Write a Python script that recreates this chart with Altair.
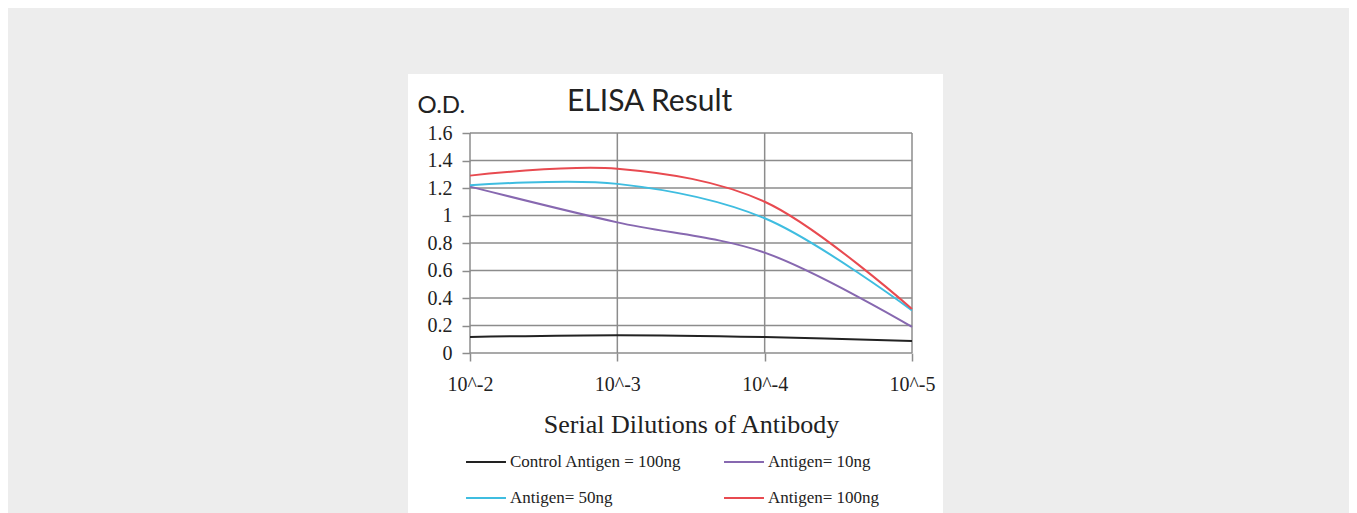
import altair as alt
import pandas as pd

dilutions = ["10^-2", "10^-3", "10^-4", "10^-5"]
series_names = ["Control Antigen = 100ng", "Antigen= 10ng", "Antigen= 50ng", "Antigen= 100ng"]
control = [0.116, 0.13, 0.116, 0.087]
ag10 = [1.21, 0.95, 0.73, 0.19]
ag50 = [1.22, 1.23, 0.98, 0.31]
ag100 = [1.29, 1.34, 1.10, 0.32]
y_ticks = [0, 0.2, 0.4, 0.6, 0.8, 1.0, 1.2, 1.4, 1.6]
colors = ["#222222", "#8768b0", "#3fbde0", "#e84a50"]

rows = []
for name, vals in zip(series_names, [control, ag10, ag50, ag100]):
    for d, v in zip(dilutions, vals):
        rows.append({"series": name, "dilution": d, "od": v})
df = pd.DataFrame(rows)
df_h = pd.DataFrame({"od": y_ticks})
df_v = pd.DataFrame({"dilution": dilutions})

GRID = "#8c8c8c"
x_enc = alt.X(
    "dilution:N", sort=dilutions,
    scale=alt.Scale(type="point", padding=0, domain=dilutions),
    axis=alt.Axis(title="Serial Dilutions of Antibody", labelAngle=0, grid=False, domain=False,
                  ticks=True, tickSize=8, tickColor=GRID, tickWidth=1.5,
                  labelFont="Liberation Serif", labelFontSize=20, labelColor="#222",
                  labelPadding=13, titleFont="Liberation Serif", titleFontSize=26,
                  titleFontWeight="normal", titleColor="#222", titlePadding=17, zindex=1),
)
y_enc = alt.Y(
    "od:Q",
    scale=alt.Scale(domain=[0, 1.6], nice=False, zero=True),
    axis=alt.Axis(title="O.D.", values=y_ticks, format="~g", grid=False, domain=False, ticks=True,
                  tickSize=8, tickColor=GRID, tickWidth=1.5, labelFont="Liberation Serif",
                  labelFontSize=20, labelColor="#222", labelPadding=10,
                  titleAngle=0, titleX=-53, titleY=-21, titleAlign="left",
                  titleBaseline="alphabetic", titleFont="Lato", titleFontSize=24,
                  titleFontWeight="normal", titleColor="#222", zindex=1),
)

box = alt.Chart(pd.DataFrame({"box": [0]})).mark_rect(color="white").encode(
    x=alt.value(-62), x2=alt.value(473), y=alt.value(-59), y2=alt.value(420)
)
hgrid = alt.Chart(df_h).mark_rule(color=GRID, strokeWidth=1.5).encode(y=y_enc)
vgrid = alt.Chart(df_v).mark_rule(color=GRID, strokeWidth=1.5).encode(x=x_enc)
lines = alt.Chart(df).mark_line(interpolate="catmull-rom", strokeWidth=2).encode(
    x=x_enc, y=y_enc,
    color=alt.Color("series:N", scale=alt.Scale(domain=series_names, range=colors),
                    legend=alt.Legend(orient="none", legendX=-3, legendY=310,
                                      direction="horizontal", columns=2, title=None,
                                      symbolType="M-1.11,0H1.11", symbolSize=1296,
                                      symbolStrokeWidth=2, labelFont="Liberation Serif",
                                      labelFontSize=17, labelColor="#222", labelOffset=5,
                                      columnPadding=38, rowPadding=9, padding=0,
                                      labelLimit=400)),
)

chart = alt.layer(box, hgrid, vgrid, lines).properties(
    width=442, height=220,
    title=alt.TitleParams("ELISA Result", font="Lato", fontSize=30, fontWeight="normal",
                          color="#222", anchor="start", frame="group", dx=97, offset=-43),
    autosize=alt.AutoSizeParams(type="none"),
    padding={"left": 462, "top": 125, "right": 437, "bottom": 160},
    background="#ededed",
).configure_view(stroke=None)

chart.save("out.html", embed_options={"renderer": "svg", "actions": False})
